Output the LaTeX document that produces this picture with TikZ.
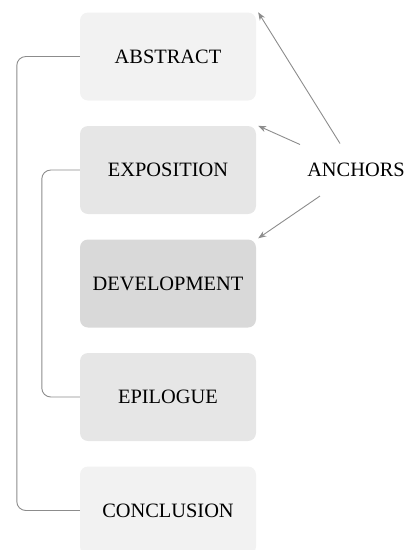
\documentclass[tikz,border=0pt]{standalone}
\usepackage{fontspec}
\setmainfont{Liberation Serif}
\usetikzlibrary{arrows.meta}
\definecolor{lightbox}{HTML}{F2F2F2}
\definecolor{midbox}{HTML}{E6E6E6}
\definecolor{darkbox}{HTML}{D9D9D9}
\definecolor{linegray}{HTML}{8C8C8C}
\tikzset{
  secbox/.style={rectangle, rounded corners=8pt, minimum width=176pt, minimum height=88pt,
    inner sep=0pt, font=\fontsize{20.4}{22}\selectfont, text=black},
  bracket/.style={draw=linegray, line width=0.9pt, rounded corners=9pt},
  anchorarrow/.style={draw=linegray, line width=0.9pt, -{Stealth[length=8pt,width=6pt]}},
}
\begin{document}
\begin{tikzpicture}[x=1pt,y=-1pt]
\useasboundingbox (0,0) rectangle (420,550);
\node[secbox, fill=lightbox] (abs) at (168,56.5) {ABSTRACT};
\node[secbox, fill=midbox] (expo) at (168,170) {EXPOSITION};
\node[secbox, fill=darkbox] (dev) at (168,283.5) {DEVELOPMENT};
\node[secbox, fill=midbox] (epi) at (168,397) {EPILOGUE};
\node[secbox, fill=lightbox] (conc) at (168,510.5) {CONCLUSION};
\node[font=\fontsize{20.4}{22}\selectfont] (anch) at (356,170) {ANCHORS};
\coordinate (t1) at (340,143.5);
\coordinate (t2) at (300,144.5);
\coordinate (t3) at (320,196);
\path[bracket] (abs.west) -- ++(-63,0) |- (conc.west);
\path[bracket] (expo.west) -- ++(-38,0) |- (epi.west);
\draw[anchorarrow] (t1) -- ([shift={(2pt,0pt)}]abs.north east);
\draw[anchorarrow] (t2) -- ([shift={(2pt,0pt)}]expo.north east);
\draw[anchorarrow] (t3) -- ([shift={(2pt,1pt)}]dev.north east);
\end{tikzpicture}
\end{document}
